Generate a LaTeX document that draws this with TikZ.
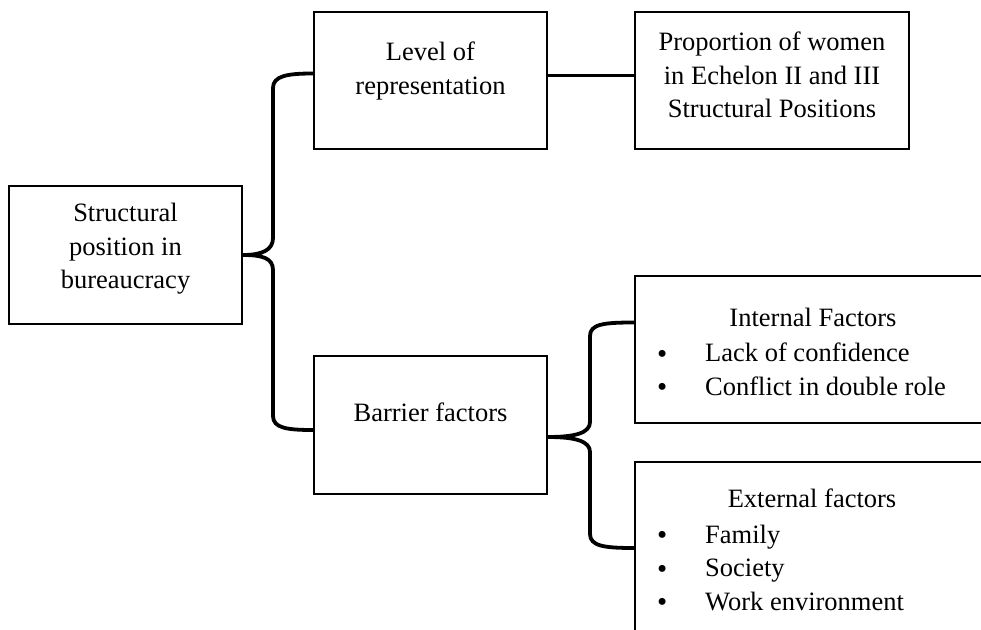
\documentclass[tikz,border=0pt]{standalone}
\usepackage{fontspec}
\setmainfont{Liberation Serif}
\usetikzlibrary{positioning}

\newcommand{\bigdot}{\raisebox{-1.5pt}{\fontsize{29}{29}\selectfont\textbullet}}

\tikzset{
  blk/.style={draw, line width=2.4pt, inner sep=0pt},
  txt/.style={align=center, font=\fontsize{26.5}{33.5}\selectfont},
  lst/.style={anchor=west, inner sep=0pt, font=\fontsize{26.5}{33.5}\selectfont},
  brace/.style={line width=3.8pt},
  link/.style={line width=3pt}
}

\begin{document}
\begin{tikzpicture}[x=1pt, y=-1pt]
    \useasboundingbox (0,0) rectangle (981,629);
    \clip (0,0) rectangle (981,629);

    % Boxes
    \node[blk, minimum width=233pt, minimum height=138pt] (pos) at (125.5,255) {};
    \node[blk, minimum width=233pt, minimum height=137pt] (lvl) at (430.5,80.5) {};
    \node[blk, minimum width=274pt, minimum height=137pt] (prop) at (772,80.5) {};
    \node[blk, minimum width=233pt, minimum height=138pt] (bar) at (430.5,425) {};
    \node[blk, minimum width=375pt, minimum height=147pt] (intf) at (822.5,349.5) {};
    \node[blk, minimum width=375pt, minimum height=188pt] (extf) at (822.5,556) {};

    % Texts
    \node[txt] (postxt) at (125.5,249) {Structural\\position in\\bureaucracy};
    \node[txt] (lvltxt) at (430.5,71) {Level of\\representation};
    \node[txt] (proptxt) at (772,75) {Proportion of women\\in Echelon II and III\\Structural Positions};
    \node[txt] (bartxt) at (430.5,412) {Barrier factors};

    % Internal factors
    \node[txt] (inthead) at (813,317) {Internal Factors};
    \node[lst] (intlist) at (657,372) {%
      \begin{tabular}{@{}p{48pt}@{}l@{}}
        \bigdot & Lack of confidence\\
        \bigdot & Conflict in double role
      \end{tabular}};

    % External factors
    \node[txt] (exthead) at (812,498) {External factors};
    \node[lst] (extlist) at (657,570) {%
      \begin{tabular}{@{}p{48pt}@{}l@{}}
        \bigdot & Family\\
        \bigdot & Society\\
        \bigdot & Work environment
      \end{tabular}};

    % Connections
    \draw[link] ([yshift=5.5pt]lvl.east) -- ([yshift=5.5pt]prop.west);

    \draw[brace] ([yshift=7pt]lvl.west) .. controls (287,73.5) and (273,76) .. (273,88)
        -- (273,238) .. controls (273,250) and (262,255) .. (pos.east)
        .. controls (262,255) and (273,258) .. (273,270)
        -- (273,416) .. controls (273,428) and (287,430) .. ([yshift=-5pt]bar.west);

    \draw[brace] ([yshift=27pt]intf.west) .. controls (604,322.5) and (590,324) .. (590,336)
        -- (590,422) .. controls (590,433) and (575,437) .. ([yshift=-12pt]bar.east)
        .. controls (575,437) and (590,441) .. (590,452)
        -- (590,534) .. controls (590,546) and (604,548) .. ([yshift=8pt]extf.west);
\end{tikzpicture}
\end{document}
